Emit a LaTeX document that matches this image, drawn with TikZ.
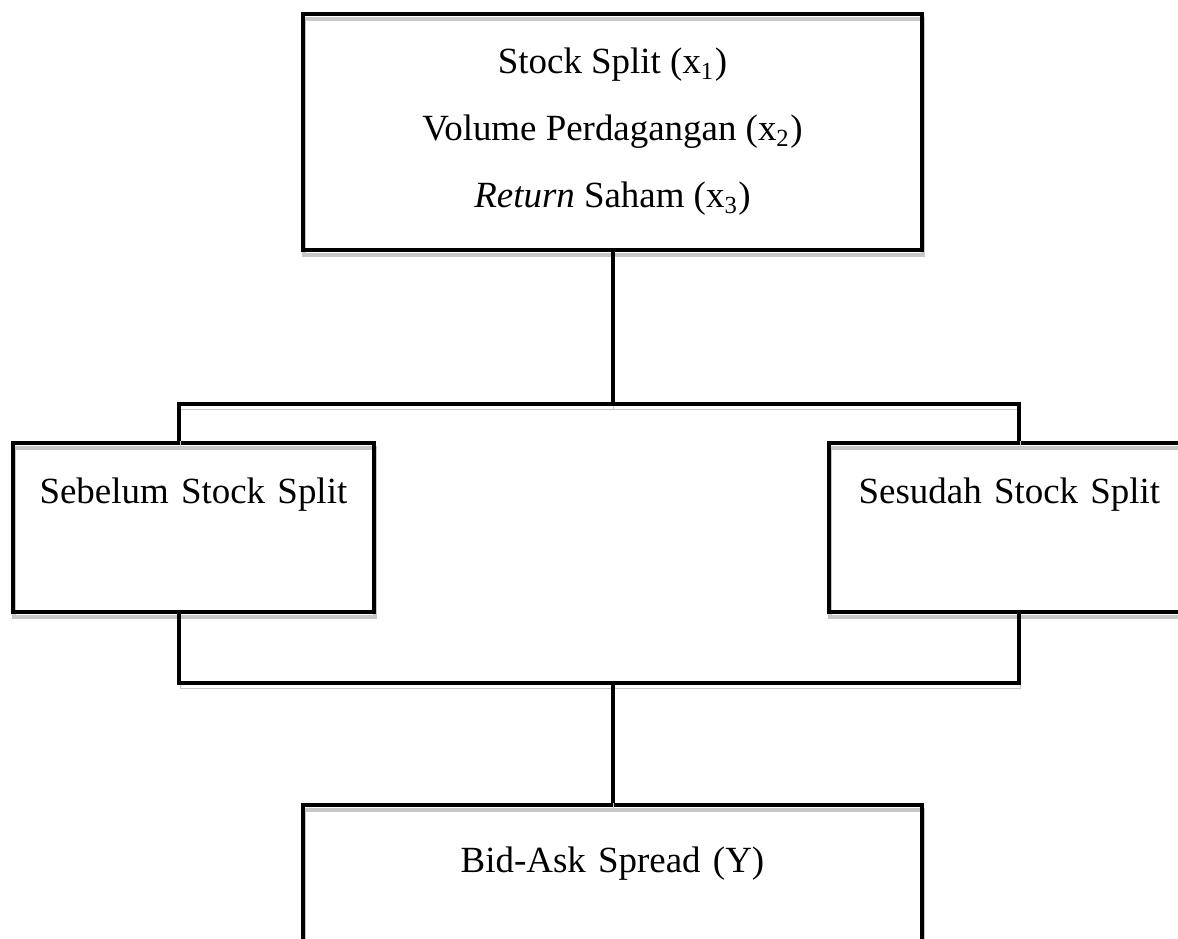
\documentclass[tikz,border=0pt]{standalone}
\usepackage{fontspec}
\setmainfont{Liberation Serif}
\usepackage{tikz}
\usetikzlibrary{positioning}

\begin{document}
\begin{tikzpicture}[x=0.325pt,y=-0.325pt,on grid]
        \tikzstyle{shade}=[preaction={draw=black!22,transform canvas={shift={(0.4pt,-1.7pt)}}}]
        \tikzstyle{box}=[draw=black,line width=1.3pt,shade,rectangle,inner sep=0pt,align=center,font=\fontsize{12}{21.8}\selectfont]
        \tikzstyle{link}=[draw=black,line width=1.3pt,shade]
        \useasboundingbox (0,0) rectangle (1178,939);
        \node[box,minimum width=201.2pt,minimum height=76.7pt] (Vx) at (612.5,132) {Stock Split (x\textsubscript{1})\\Volume Perdagangan (x\textsubscript{2})\\\textit{Return} Saham (x\textsubscript{3})};
        \node[box,text width=117.3pt,text height=19.8pt,text depth=35.1pt] (Sb) [below left=128.5pt and 136.2pt of Vx] {Sebelum Stock Split};
        \node[box,text width=117.3pt,text height=19.8pt,text depth=35.1pt] (Ss) [below right=128.5pt and 129pt of Vx] {Sesudah Stock Split};
        \node[box,text width=201.2pt,text height=21.8pt,text depth=54.9pt] (Ba) [below=257.1pt of Vx] {Bid-Ask Spread (Y)};
        \coordinate[below=49.4pt of Vx.south] (Up);
        \coordinate[above=39pt of Ba.north] (Dn);
        \draw[link] (Vx.south) -- (Up);
        \draw[link] ([xshift=54.6pt]Sb.north west) |- (Up) -| ([xshift=62.4pt]Ss.north west);
        \draw[link] ([xshift=54.6pt]Sb.south west) |- (Dn) -| ([xshift=62.4pt]Ss.south west);
        \draw[link] (Dn) -- (Ba.north);
    \end{tikzpicture}
\end{document}
